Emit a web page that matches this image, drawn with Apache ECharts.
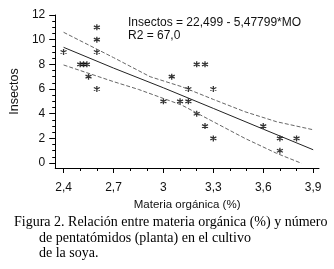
<!DOCTYPE html>
<html>
<head>
<meta charset="utf-8">
<script src="https://cdn.jsdelivr.net/npm/echarts@6/dist/echarts.min.js"></script>
<style>
  html, body { margin: 0; padding: 0; background: #fff; }
  #chart { width: 334px; height: 269px; }
</style>
</head>
<body>
<div id="chart"></div>
<script>
// puntos observados: materia orgánica (%) vs insectos
const moX = [2.4, 2.6, 2.6, 2.6, 2.5, 2.52, 2.54, 2.55, 2.6, 3.05, 3.2, 3.25, 3.15, 3.3, 3.0, 3.1, 3.15, 3.2, 3.25, 3.3, 3.6, 3.7, 3.8, 3.7]
const insectos = [9, 11, 10, 9, 8, 8, 8, 7, 6, 7, 8, 8, 6, 6, 5, 5, 5, 4, 3, 2, 3, 2, 2, 1]

// recta de regresión y bandas
const fitX = [2.4, 2.7, 3.0, 3.3, 3.6, 3.9]
const fitY = [9.38, 7.7, 6.1, 4.43, 2.75, 1.08]
const upperX = [2.4, 2.7, 2.92, 3.11, 3.3, 3.49, 3.68, 3.9]
const upperY = [10.6, 8.55, 7.0, 6.19, 5.16, 4.16, 3.35, 2.7]
const lowerX = [2.4, 2.7, 2.85, 3.11, 3.3, 3.49, 3.68, 3.83]
const lowerY = [7.95, 6.6, 5.97, 4.7, 3.35, 2.0, 0.79, -0.02]

const xMajor = [2.4, 2.7, 3.0, 3.3, 3.6, 3.9]
const xMinor = [2.5, 2.6, 2.8, 2.9, 3.1, 3.2, 3.4, 3.5, 3.7, 3.8]
const yMajor = [0, 2, 4, 6, 8, 10, 12]
const yMinor = [0.5, 1, 1.5, 2.5, 3, 3.5, 4.5, 5, 5.5, 6.5, 7, 7.5, 8.5, 9, 9.5, 10.5, 11, 11.5]

const pair = (xs, ys) => xs.map((x, i) => [x, ys[i]])
const comma = v => String(+(+v).toFixed(1)).replace('.', ',')

const font = 'Liberation Sans, Arial, sans-serif'
const serif = 'Liberation Serif, Times New Roman, serif'
const asterisk = 'path://M0,-10L0,10M-8.66,-5L8.66,5M-8.66,5L8.66,-5'

const chart = echarts.init(document.getElementById('chart'), null, { renderer: 'canvas' })

const xBase = { type: 'value', min: 2.35, max: 3.935, splitLine: { show: false } }
const yBase = { type: 'value', min: -0.4, max: 12, splitLine: { show: false } }

chart.setOption({
  animation: false,
  grid: { left: 42, top: 15, right: 15, bottom: 101 },
  xAxis: [
    {
      ...xBase,
      name: 'Materia orgánica (%)',
      nameLocation: 'middle',
      nameGap: 31,
      nameTextStyle: { fontFamily: font, fontSize: 11.5, color: '#111' },
      axisLine: { onZero: false, lineStyle: { color: '#000', width: 1 } },
      axisTick: { customValues: xMajor, length: 5, lineStyle: { color: '#000' } },
      axisLabel: { customValues: xMajor, formatter: comma, margin: 14, fontFamily: font, fontSize: 12, color: '#111' },
    },
    {
      ...xBase,
      position: 'bottom',
      axisLine: { show: false, onZero: false },
      axisTick: { customValues: xMinor, length: 3, lineStyle: { color: '#000' } },
      axisLabel: { show: false },
    },
  ],
  yAxis: [
    {
      ...yBase,
      name: 'Insectos',
      nameLocation: 'middle',
      nameGap: 22,
      nameTextStyle: { fontFamily: font, fontSize: 12.5, color: '#111' },
      axisLine: { show: true, onZero: false, lineStyle: { color: '#000', width: 1 } },
      axisTick: { show: true, customValues: yMajor, length: 6, lineStyle: { color: '#000' } },
      axisLabel: { customValues: yMajor, margin: 10, fontFamily: font, fontSize: 12, color: '#111' },
    },
    {
      ...yBase,
      position: 'left',
      axisLine: { show: false, onZero: false },
      axisTick: { show: true, customValues: yMinor, length: 3, lineStyle: { color: '#000' } },
      axisLabel: { show: false },
    },
  ],
  graphic: [
    { type: 'text', left: 128, top: 17, style: { text: 'Insectos = 22,499 - 5,47799*MO', font: '12px ' + font, fill: '#111' } },
    { type: 'text', left: 128, top: 30, style: { text: 'R2 = 67,0', font: '12px ' + font, fill: '#111' } },
    { type: 'text', left: 14, top: 215, style: { text: 'Figura 2. Relación entre materia orgánica (%) y número', font: '14px ' + serif, fill: '#000' } },
    { type: 'text', left: 39, top: 231, style: { text: 'de pentatómidos (planta) en el cultivo', font: '14px ' + serif, fill: '#000' } },
    { type: 'text', left: 39, top: 246, style: { text: 'de la soya.', font: '14px ' + serif, fill: '#000' } },
  ],
  series: [
    {
      type: 'line', data: pair(upperX, upperY), symbol: 'none',
      lineStyle: { color: '#666', width: 1, type: [4, 2] },
    },
    {
      type: 'line', data: pair(lowerX, lowerY), symbol: 'none',
      lineStyle: { color: '#666', width: 1, type: [4, 2] },
    },
    {
      type: 'line', data: pair(fitX, fitY), symbol: 'none',
      lineStyle: { color: '#222', width: 1 },
    },
    {
      type: 'scatter', data: pair(moX, insectos), symbol: asterisk, symbolSize: 6,
      itemStyle: { color: 'transparent', borderColor: '#000', borderWidth: 1.3 },
    },
  ],
})
</script>
</body>
</html>
